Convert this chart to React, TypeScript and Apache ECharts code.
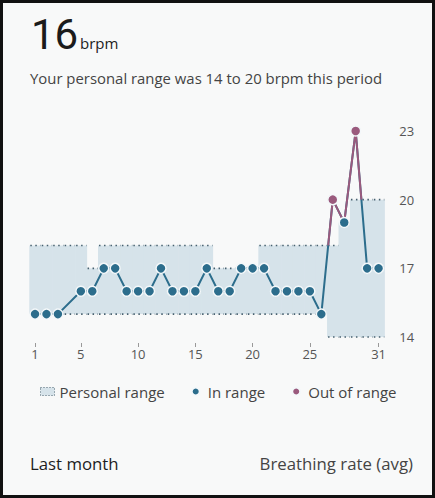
import React, { useEffect, useRef } from "react";
import * as echarts from "echarts";

// ---- data ----
const days = [1,2,3,4,5,6,7,8,9,10,11,12,13,14,15,16,17,18,19,20,21,22,23,24,25,26,27,28,29,30,31];
const rates: (number | null)[] = [15,15,15,null,16,16,17,17,16,16,16,17,16,16,16,17,16,16,17,17,17,16,16,16,16,15,20,19,23,17,17];
const rangeLow = [15,15,15,15,15,15,15,15,15,15,15,15,15,15,15,15,15,15,15,15,15,15,15,15,15,15,14,14,14,14,14];
const rangeHigh = [18,18,18,18,18,17,18,18,18,18,18,18,18,18,18,18,17,17,17,17,18,18,18,18,18,18,18,19,20,20,20];
const xTicks = [1,5,10,15,20,25,31];
const yTicks = [14,17,20,23];

const BLUE = "#2c6d8c";
const PURPLE = "#9a5a7d";
const BAND = "#d6e3ea";
const DOT = "#46606f";
const FONT = "'Open Sans', Roboto, sans-serif";

function buildSeriesData() {
  const pts: [number, number][] = [];
  days.forEach((d, i) => {
    const v = rates[i];
    if (v !== null) pts.push([d, v]);
  });
  const inRange: [number, number][] = [];
  const outRange: [number, number][] = [];
  pts.forEach(([d, v]) => {
    const i = d - 1;
    if (v > rangeHigh[i] || v < rangeLow[i]) outRange.push([d, v]);
    else inRange.push([d, v]);
  });
  // purple parts of the line: where it lies above the personal range upper bound
  const purple: ([number, number] | [null, null])[] = [];
  let last: [number, number] | null = null;
  const addPiece = (a: [number, number], b: [number, number]) => {
    if (last && Math.abs(last[0] - a[0]) < 1e-9 && Math.abs(last[1] - a[1]) < 1e-9) {
      purple.push(b);
    } else {
      if (purple.length) purple.push([null, null]);
      purple.push(a, b);
    }
    last = b;
  };
  for (let k = 0; k < pts.length - 1; k++) {
    const [x0, y0] = pts[k];
    const [x1, y1] = pts[k + 1];
    if (x1 - x0 !== 1) continue;
    const ym = (y0 + y1) / 2;
    const halves: [number, number, number, number, number][] = [
      [x0, y0, x0 + 0.5, ym, rangeHigh[x0 - 1]],
      [x0 + 0.5, ym, x1, y1, rangeHigh[x1 - 1]],
    ];
    halves.forEach(([ax, ay, bx, by, th]) => {
      const aAbove = ay > th, bAbove = by > th;
      if (!aAbove && !bAbove) return;
      let sx = ax, sy = ay, ex = bx, ey = by;
      if (!aAbove) { const t = (th - ay) / (by - ay); sx = ax + t * (bx - ax); sy = th; }
      if (!bAbove) { const t = (th - ay) / (by - ay); ex = ax + t * (bx - ax); ey = th; }
      addPiece([sx, sy], [ex, ey]);
    });
  }
  return { pts, inRange, outRange, purple };
}

export default function App() {
  const ref = useRef<HTMLDivElement>(null);
  useEffect(() => {
    document.body.style.margin = "0";
    if (!ref.current) return;
    const chart = echarts.init(ref.current, undefined, { renderer: "svg" });
    const { pts, inRange, outRange, purple } = buildSeriesData();
    const bandData = days.map((d, i) => [d, rangeLow[i], rangeHigh[i]]);
    chart.setOption({
      animation: false,
      backgroundColor: "#f8f9f9",
      grid: { left: 29.3, right: 50.7, top: 131, bottom: 161 },
      xAxis: {
        type: "value",
        min: 0.5,
        max: 31.5,
        offset: 6,
        axisLine: { show: false },
        splitLine: { show: false },
        axisTick: { show: true, customValues: xTicks, length: 4, lineStyle: { color: "#999", width: 1 } },
        axisLabel: { customValues: xTicks, margin: 4, color: "#555", fontSize: 13, fontFamily: FONT },
      },
      yAxis: {
        type: "value",
        position: "right",
        min: 14,
        max: 23,
        axisLine: { show: false },
        axisTick: { show: false },
        splitLine: { show: false },
        axisLabel: { customValues: yTicks, margin: 15, color: "#555", fontSize: 13, fontFamily: FONT },
      },
      legend: {
        top: 379,
        left: 35,
        itemGap: 26,
        itemWidth: 14,
        itemHeight: 8,
        textStyle: { color: "#444", fontSize: 15, fontFamily: FONT },
        data: [
          { name: "Personal range", icon: "rect", itemStyle: { color: BAND, borderColor: DOT, borderWidth: 1, borderType: [1, 2] } },
          { name: "In range", icon: "circle", itemStyle: { color: BLUE } },
          { name: "Out of range", icon: "circle", itemStyle: { color: PURPLE } },
        ],
      },
      graphic: [
        { type: "text", x: 31, y: 34, style: { text: "16", fontSize: 42, fontFamily: "Roboto, sans-serif", fill: "#1b1b1b", textVerticalAlign: "middle" } },
        { type: "text", x: 80, y: 43, style: { text: "brpm", fontSize: 15, fontFamily: FONT, fill: "#222", textVerticalAlign: "middle" } },
        { type: "text", x: 30, y: 78, style: { text: "Your personal range was 14 to 20 brpm this period", fontSize: 14.9, fontFamily: FONT, fill: "#444", textVerticalAlign: "middle" } },
        { type: "text", x: 30, y: 463, style: { text: "Last month", fontSize: 16.8, fontFamily: FONT, fill: "#1d1d1d", textVerticalAlign: "middle" } },
        { type: "text", x: 413, y: 463, style: { text: "Breathing rate (avg)", fontSize: 16.8, fontFamily: FONT, fill: "#444", textAlign: "right", textVerticalAlign: "middle" } },
        { type: "rect", shape: { x: 1.5, y: 1.5, width: 432, height: 495 }, style: { fill: "none", stroke: "#111", lineWidth: 3 }, z: 100 },
      ],
      series: [
        {
          name: "Personal range",
          type: "custom",
          data: bandData,
          z: 1,
          renderItem: (params: any, api: any) => {
            const d = api.value(0), lo = api.value(1), hi = api.value(2);
            const p0 = api.coord([d - 0.5, hi]);
            const p1 = api.coord([d + 0.5, lo]);
            return {
              type: "group",
              children: [
                { type: "rect", shape: { x: p0[0], y: p0[1], width: p1[0] - p0[0] + 0.6, height: p1[1] - p0[1] }, style: { fill: BAND } },
                { type: "line", shape: { x1: p0[0] + 1, y1: p0[1], x2: p1[0], y2: p0[1] }, style: { stroke: DOT, lineWidth: 1.6, lineDash: [1.5, 3.5] } },
                { type: "line", shape: { x1: p0[0] + 1, y1: p1[1], x2: p1[0], y2: p1[1] }, style: { stroke: DOT, lineWidth: 1.6, lineDash: [1.5, 3.5] } },
              ],
            };
          },
        },
        {
          name: "line",
          type: "line",
          data: pts,
          symbol: "none",
          z: 2,
          lineStyle: { color: BLUE, width: 2 },
        },
        {
          name: "lineOut",
          type: "line",
          data: purple,
          symbol: "none",
          connectNulls: false,
          z: 3,
          lineStyle: { color: PURPLE, width: 2 },
        },
        {
          name: "In range",
          type: "scatter",
          data: inRange,
          symbolSize: 10,
          z: 4,
          itemStyle: { color: BLUE, borderColor: "#f4f8fa", borderWidth: 1.5, opacity: 1 },
        },
        {
          name: "Out of range",
          type: "scatter",
          data: outRange,
          symbolSize: 10,
          z: 4,
          itemStyle: { color: PURPLE, borderColor: "#f4f8fa", borderWidth: 1.5, opacity: 1 },
        },
      ],
    });
    return () => chart.dispose();
  }, []);
  return <div ref={ref} style={{ position: "fixed", left: 0, top: 0, width: 435, height: 498 }} />;
}
